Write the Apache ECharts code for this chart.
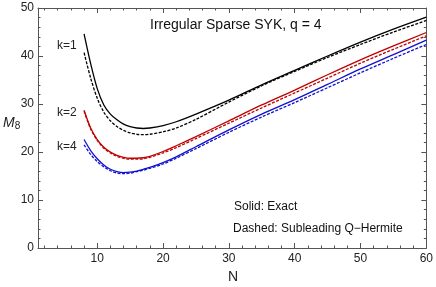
<!DOCTYPE html>
<html>
<head>
<meta charset="utf-8">
<script src="https://cdn.jsdelivr.net/npm/echarts@6/dist/echarts.min.js"></script>
<style>
html,body{margin:0;padding:0;background:#fff;}
#c{width:436px;height:287px;}
</style>
</head>
<body>
<div id="c"></div>
<script>
const N = [8,9,10,11,12,13,14,15,16,17,18,20,22,25,30,35,40,45,50,55,60];
const k1Solid  = [44.6,38.4,33.2,29.8,27.9,26.7,25.8,25.3,25.0,24.9,25.0,25.5,26.3,27.9,30.8,34.0,37.0,40.0,42.9,45.6,48.1];
const k1Dashed = [40.7,35.4,31.2,28.3,26.5,25.3,24.5,24.0,23.7,23.6,23.7,24.2,25.0,26.8,30.4,33.8,36.8,39.7,42.4,45.0,47.4];
const k2Solid  = [28.7,25.0,22.6,21.0,20.0,19.3,18.9,18.7,18.7,18.8,19.1,20.1,21.3,23.2,26.5,29.8,32.9,36.1,39.2,42.1,44.9];
const k2Dashed = [28.5,24.8,22.4,20.8,19.8,19.1,18.7,18.5,18.5,18.6,18.9,19.8,20.9,22.8,26.0,29.2,32.3,35.4,38.5,41.4,44.2];
const k4Solid  = [22.6,20.3,18.6,17.3,16.4,15.9,15.7,15.8,16.0,16.4,16.8,17.8,19.0,21.1,24.6,27.9,30.9,34.1,37.3,40.3,43.3];
const k4Dashed = [21.5,19.5,18.0,16.9,16.1,15.6,15.5,15.6,15.9,16.2,16.6,17.5,18.7,20.7,24.1,27.3,30.3,33.4,36.5,39.5,42.4];

const xMajorTicks = [10,20,30,40,50,60];
const xMinorTicks = [2,4,6,8,12,14,16,18,22,24,26,28,32,34,36,38,42,44,46,48,52,54,56,58];
const yMajorTicks = [0,10,20,30,40,50];
const yMinorTicks = [2,4,6,8,12,14,16,18,22,24,26,28,32,34,36,38,42,44,46,48];

const curveLabels = ['k=1','k=2','k=4'];
const titleText = 'Irregular Sparse SYK, q = 4';
const noteSolid = 'Solid: Exact';
const noteDashed = 'Dashed: Subleading Q\u2212Hermite';

const FONT = '"Liberation Sans", Arial, sans-serif';
const frameColor = '#555';
const colors = {k1:'#000000', k2:'#c00000', k4:'#1010d0'};

function pairs(vals){ return N.map((n,i)=>[n, vals[i]]); }

function xAx(pos, ticks, len, showLabel, showLine){
  return {
    type:'value', position:pos, min:1, max:60, gridIndex:0,
    axisLine:{show:showLine, onZero:false, lineStyle:{color:frameColor, width:1}},
    axisTick:{show:true, inside:true, length:len, customValues:ticks, lineStyle:{color:frameColor, width:1}},
    axisLabel:{show:showLabel, customValues:ticks, color:'#222', fontSize:12, fontFamily:FONT, margin:5},
    splitLine:{show:false}, minorTick:{show:false}
  };
}
function yAx(pos, ticks, len, showLabel, showLine){
  return {
    type:'value', position:pos, min:0, max:50, gridIndex:0,
    axisLine:{show:showLine, onZero:false, lineStyle:{color:frameColor, width:1}},
    axisTick:{show:true, inside:true, length:len, customValues:ticks, lineStyle:{color:frameColor, width:1}},
    axisLabel:{show:showLabel, customValues:ticks, color:'#222', fontSize:12, fontFamily:FONT, margin:4},
    splitLine:{show:false}, minorTick:{show:false}
  };
}

function line(vals, color, dashed){
  return {
    type:'line', xAxisIndex:0, yAxisIndex:0, data:pairs(vals),
    showSymbol:false, symbol:'none', smooth:0.3,
    lineStyle:{color:color, width:1.3, type: dashed ? [3,1.5] : 'solid'},
    animation:false, silent:true
  };
}

const chart = echarts.init(document.getElementById('c'), null, {renderer:'canvas'});
chart.setOption({
  animation:false,
  backgroundColor:'#fff',
  grid:{left:38, right:8, top:8, bottom:39, containLabel:false},
  xAxis:[
    xAx('bottom', xMajorTicks, 5, true, true),
    xAx('bottom', xMinorTicks, 2.5, false, false),
    xAx('top', xMajorTicks, 5, false, true),
    xAx('top', xMinorTicks, 2.5, false, false)
  ],
  yAxis:[
    yAx('left', yMajorTicks, 5, true, true),
    yAx('left', yMinorTicks, 2.5, false, false),
    yAx('right', yMajorTicks, 5, false, true),
    yAx('right', yMinorTicks, 2.5, false, false)
  ],
  series:[
    line(k1Solid, colors.k1, false),
    line(k1Dashed, colors.k1, true),
    line(k2Solid, colors.k2, false),
    line(k2Dashed, colors.k2, true),
    line(k4Solid, colors.k4, false),
    line(k4Dashed, colors.k4, true)
  ],
  graphic:[
    {type:'text', x:150, y:25, style:{text:titleText, font:'14px '+FONT, fill:'#111', textAlign:'left', textVerticalAlign:'middle'}},
    {type:'text', x:57, y:46, style:{text:curveLabels[0], font:'12px '+FONT, fill:'#222', textAlign:'left', textVerticalAlign:'middle'}},
    {type:'text', x:57, y:113, style:{text:curveLabels[1], font:'12px '+FONT, fill:'#222', textAlign:'left', textVerticalAlign:'middle'}},
    {type:'text', x:57, y:147, style:{text:curveLabels[2], font:'12px '+FONT, fill:'#222', textAlign:'left', textVerticalAlign:'middle'}},
    {type:'text', x:234, y:207, style:{text:noteSolid, font:'12px '+FONT, fill:'#111', textAlign:'left', textVerticalAlign:'middle'}},
    {type:'text', x:233, y:229, style:{text:noteDashed, font:'12px '+FONT, fill:'#111', textAlign:'left', textVerticalAlign:'middle'}},
    {type:'text', x:233, y:277, style:{text:'N', font:'14px '+FONT, fill:'#222', textAlign:'center', textVerticalAlign:'middle'}},
    {type:'text', x:3, y:123, style:{
      text:'{m|M}{s|8}', textVerticalAlign:'middle', textAlign:'left',
      rich:{m:{font:'italic 14px '+FONT, fill:'#222'}, s:{font:'10px '+FONT, fill:'#222', padding:[6,0,0,0]}}
    }}
  ]
});
</script>
</body>
</html>
